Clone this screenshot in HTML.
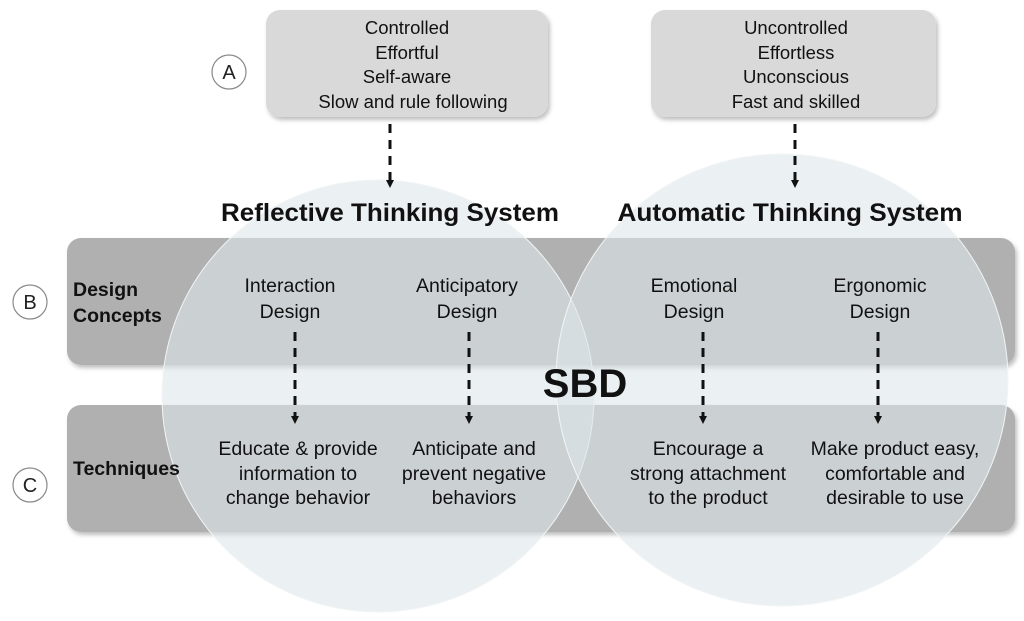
<!DOCTYPE html>
<html><head><meta charset="utf-8"><style>
body{margin:0;background:#fff;width:1024px;height:616px;overflow:hidden;font-family:"Liberation Sans",Arial,sans-serif}
</style></head><body>
<svg width="1024" height="616" xmlns="http://www.w3.org/2000/svg" font-family="Liberation Sans, Arial, sans-serif">
<defs>
<marker id="ah" markerWidth="8" markerHeight="8" refX="4" refY="4" orient="auto" markerUnits="userSpaceOnUse"><path d="M0,0 L8,4 L0,8z" fill="#111"/></marker>
<filter id="sh" x="-5%" y="-10%" width="110%" height="130%"><feDropShadow dx="2" dy="3" stdDeviation="2" flood-color="#000" flood-opacity="0.25"/></filter>
</defs>
<rect x="266" y="10" width="282" height="107" rx="14" fill="#d9d9d9" filter="url(#sh)"/>
<rect x="651" y="10" width="285" height="107" rx="14" fill="#d9d9d9" filter="url(#sh)"/>
<g font-size="18.5" fill="#111" text-anchor="middle">
<text x="407" y="34">Controlled</text><text x="407" y="59">Effortful</text><text x="407" y="83">Self-aware</text><text x="413" y="108">Slow and rule following</text>
<text x="796" y="34">Uncontrolled</text><text x="796" y="59">Effortless</text><text x="796" y="83">Unconscious</text><text x="796" y="108">Fast and skilled</text>
</g>
<rect x="67" y="238" width="948" height="127" rx="14" fill="#b0b0b0" filter="url(#sh)"/>
<rect x="67" y="405" width="948" height="127" rx="14" fill="#b0b0b0" filter="url(#sh)"/>
<circle cx="378" cy="396" r="216" fill="#dde6ea" fill-opacity="0.6" stroke="#f2f5f6" stroke-width="1"/>
<circle cx="782" cy="380" r="226" fill="#dde6ea" fill-opacity="0.6" stroke="#f2f5f6" stroke-width="1"/>
<g stroke="#111" stroke-width="3" stroke-dasharray="9,7" fill="none" marker-end="url(#ah)">
<line x1="390" y1="124" x2="390" y2="184"/>
<line x1="795" y1="124" x2="795" y2="184"/>
<line x1="295" y1="332" x2="295" y2="420"/>
<line x1="469" y1="332" x2="469" y2="420"/>
<line x1="703" y1="332" x2="703" y2="420"/>
<line x1="878" y1="332" x2="878" y2="420"/>
</g>
<g font-weight="bold" font-size="25" fill="#111" text-anchor="middle">
<text x="390" y="221" textLength="338" lengthAdjust="spacingAndGlyphs">Reflective Thinking System</text>
<text x="790" y="221" textLength="345" lengthAdjust="spacingAndGlyphs">Automatic Thinking System</text>
</g>
<text x="585" y="397" font-size="40" font-weight="bold" text-anchor="middle" fill="#111">SBD</text>
<g font-weight="bold" font-size="19.5" fill="#111">
<text x="73" y="296">Design</text><text x="73" y="322">Concepts</text>
<text x="73" y="475">Techniques</text>
</g>
<g font-size="19.5" fill="#111" text-anchor="middle">
<text x="290" y="292">Interaction</text><text x="290" y="318">Design</text>
<text x="467" y="292">Anticipatory</text><text x="467" y="318">Design</text>
<text x="694" y="292">Emotional</text><text x="694" y="318">Design</text>
<text x="880" y="292">Ergonomic</text><text x="880" y="318">Design</text>
<text x="298" y="455">Educate &amp; provide</text><text x="298" y="480">information to</text><text x="298" y="504">change behavior</text>
<text x="474" y="455">Anticipate and</text><text x="474" y="480">prevent negative</text><text x="474" y="504">behaviors</text>
<text x="708" y="455">Encourage a</text><text x="708" y="480">strong attachment</text><text x="708" y="504">to the product</text>
<text x="895" y="455">Make product easy,</text><text x="895" y="480">comfortable and</text><text x="895" y="504">desirable to use</text>
</g>
<g fill="#fff" stroke="#888" stroke-width="1.2">
<circle cx="229" cy="72" r="17"/><circle cx="30" cy="302" r="17"/><circle cx="30" cy="485" r="17"/>
</g>
<g font-size="20" fill="#222" text-anchor="middle">
<text x="229" y="79">A</text><text x="30" y="309">B</text><text x="30" y="492">C</text>
</g>
</svg>
</body></html>
